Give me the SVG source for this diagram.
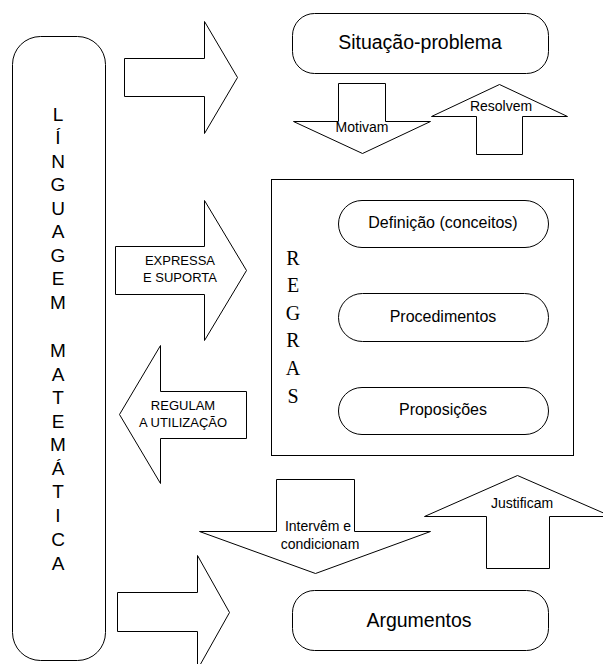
<svg xmlns="http://www.w3.org/2000/svg" width="603" height="664" viewBox="0 0 603 664">
<style>
.s{fill:#fff;stroke:#000;stroke-width:1}
.t{font-family:"Liberation Sans",Arial,sans-serif;fill:#000;text-anchor:middle}
.r{font-family:"Liberation Serif","Times New Roman",serif;fill:#000;text-anchor:middle;font-size:20px}
</style>
<rect width="603" height="664" fill="#fff"/>
<g id="connectors">
  <g id="arrow-top"><polygon class="s" points="124.5,58.5 204.5,58.5 204.5,21.5 237.5,77.5 204.5,133.5 204.5,96.5 124.5,96.5"/></g>
  <g id="arrow-motivam">
    <polygon class="s" points="338.5,83.5 385.5,83.5 385.5,121.5 430.5,121.5 362.5,153.5 293.5,121.5 338.5,121.5"/>
    <text class="t" x="362" y="132" font-size="14">Motivam</text>
  </g>
  <g id="arrow-resolvem">
    <polygon class="s" points="499.5,84.5 567.5,116.5 522.5,116.5 522.5,154.5 476.5,154.5 476.5,116.5 431.5,116.5"/>
    <text class="t" x="501" y="111" font-size="14">Resolvem</text>
  </g>
  <g id="arrow-expressa">
    <polygon class="s" points="115.5,246.5 204.5,246.5 204.5,200.5 246.5,270.5 204.5,340.5 204.5,294.5 115.5,294.5"/>
    <text class="t" x="180" y="265" font-size="13">EXPRESSA</text>
    <text class="t" x="180" y="282" font-size="13">E SUPORTA</text>
  </g>
  <g id="arrow-regulam">
    <polygon class="s" points="119.5,414.5 160.5,345.5 160.5,391.5 246.5,391.5 246.5,438.5 160.5,438.5 160.5,483.5"/>
    <text class="t" x="183" y="410" font-size="13">REGULAM</text>
    <text class="t" x="183" y="427" font-size="13">A UTILIZAÇÃO</text>
  </g>
  <g id="arrow-intervem">
    <polygon class="s" points="276.5,479.5 354.5,479.5 354.5,531.5 430.5,531.5 315.5,573.5 199.5,531.5 276.5,531.5"/>
    <text class="t" x="318" y="531" font-size="14">Intervêm e</text>
    <text class="t" x="320" y="549" font-size="14">condicionam</text>
  </g>
  <g id="arrow-justificam">
    <polygon class="s" points="517.5,475.5 611.5,516.5 549.5,516.5 549.5,568.5 486.5,568.5 486.5,516.5 424.5,516.5"/>
    <text class="t" x="522" y="508" font-size="14">Justificam</text>
  </g>
  <g id="arrow-bottom"><polygon class="s" points="117.5,592.5 197.5,592.5 197.5,555.5 229.5,612.5 197.5,669.5 197.5,631.5 117.5,631.5"/></g>
</g>
<g id="linguagem">
  <rect class="s" x="12.5" y="36.5" width="93" height="624" rx="28" ry="28"/>
  <g class="t" font-size="19">
    <text x="58" y="121">L</text>
    <text x="58" y="144">Í</text>
    <text x="58" y="168">N</text>
    <text x="58" y="191">G</text>
    <text x="58" y="215">U</text>
    <text x="58" y="238">A</text>
    <text x="58" y="262">G</text>
    <text x="58" y="285">E</text>
    <text x="58" y="309">M</text>
    <text x="58" y="357">M</text>
    <text x="58" y="381">A</text>
    <text x="58" y="404">T</text>
    <text x="58" y="428">E</text>
    <text x="58" y="451">M</text>
    <text x="58" y="475">Á</text>
    <text x="58" y="498">T</text>
    <text x="58" y="522">I</text>
    <text x="58" y="546">C</text>
    <text x="58" y="570">A</text>
  </g>
</g>
<g id="situacao">
  <rect class="s" x="292.5" y="13.5" width="256" height="60" rx="22" ry="22"/>
  <text class="t" x="420" y="49" font-size="19.5">Situação-problema</text>
</g>
<g id="regras">
  <rect class="s" x="271.5" y="179.5" width="302" height="276"/>
  <text class="r" x="293" y="265">R</text>
  <text class="r" x="293" y="292">E</text>
  <text class="r" x="293" y="320">G</text>
  <text class="r" x="293" y="347">R</text>
  <text class="r" x="293" y="375">A</text>
  <text class="r" x="293" y="403">S</text>
</g>
<g id="definicao">
  <rect class="s" x="338.5" y="200.5" width="210" height="47" rx="23.5" ry="23.5"/>
  <text class="t" x="443" y="228" font-size="16">Definição (conceitos)</text>
</g>
<g id="procedimentos">
  <rect class="s" x="338.5" y="293.5" width="210" height="48" rx="24" ry="24"/>
  <text class="t" x="443" y="322" font-size="16">Procedimentos</text>
</g>
<g id="proposicoes">
  <rect class="s" x="338.5" y="387.5" width="210" height="47" rx="23.5" ry="23.5"/>
  <text class="t" x="443" y="415" font-size="16">Proposições</text>
</g>
<g id="argumentos">
  <rect class="s" x="292.5" y="590.5" width="256" height="60" rx="22" ry="22"/>
  <text class="t" x="419" y="627" font-size="19.5">Argumentos</text>
</g>
</svg>
